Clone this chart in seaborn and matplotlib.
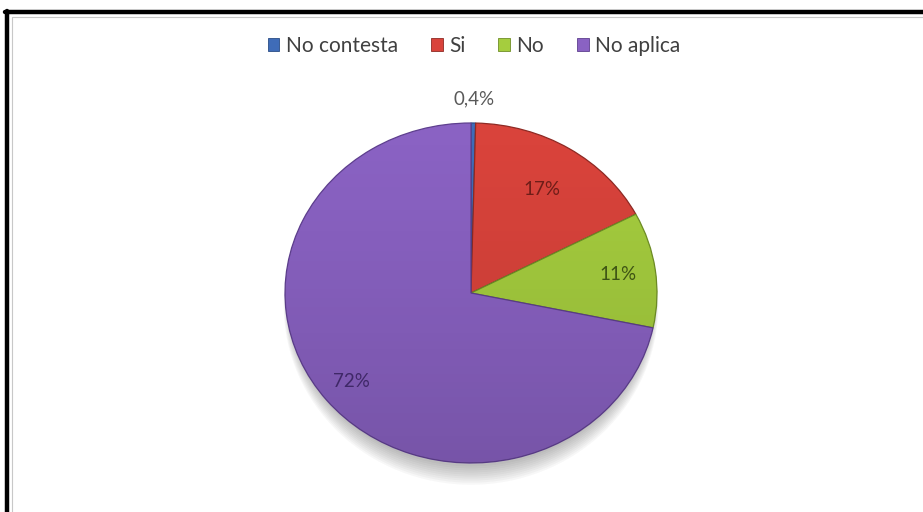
import numpy as np
import matplotlib
matplotlib.use("Agg")
import matplotlib.pyplot as plt
from matplotlib.lines import Line2D
from matplotlib.patches import Ellipse
import seaborn as sns

# Survey answers, in drawing order (clockwise from 12 o'clock)
categories = ["No contesta", "Si", "No", "No aplica"]
values = [0.4, 17, 11, 72]
labels = ["0,4%", "17%", "11%", "72%"]

slice_colors = ["#3F6CB8", "#D9433B", "#A5CD3E", "#8A62C3"]
edge_colors = ["#2A4C85", "#8E2A24", "#6F8E26", "#5E3F8E"]
label_colors = ["#595959", "#6E1D18", "#3E5414", "#3F2867"]
label_radius = [1.14, 0.72, 0.80, 0.83]

sns.set_theme(style="white")
plt.rcParams["font.family"] = ["Lato", "DejaVu Sans"]

W, H = 923, 512
fig = plt.figure(figsize=(W / 100, H / 100), dpi=100)
fig.patch.set_facecolor("white")

# Outer frame: heavy black line on top and left, thin grey line inside
fig.add_artist(Line2D([5 / W, 1], [1 - 12 / H, 1 - 12 / H], color="black", lw=3.2))
fig.add_artist(Line2D([7 / W, 7 / W], [0, 1 - 10.5 / H], color="black", lw=3.2))
fig.add_artist(Line2D([12 / W, 1], [1 - 17 / H, 1 - 17 / H], color="#C8C8C8", lw=0.8))
fig.add_artist(Line2D([12 / W, 12 / W], [0, 1 - 17 / H], color="#C8C8C8", lw=0.8))

# Pie axes (slightly wider than tall, as in the original spreadsheet chart)
cx, cy, rx, ry = 471, 293, 186, 170
ax = fig.add_axes([(cx - rx) / W, (H - cy - ry) / H, 2 * rx / W, 2 * ry / H])
ax.axis("off")

wedges, _ = ax.pie(values, colors=slice_colors, startangle=90, counterclock=False,
                   radius=1.0, wedgeprops=dict(linewidth=0.9))
for w, ec in zip(wedges, edge_colors):
    w.set_edgecolor(ec)
    w.set_zorder(2)

# Soft drop shadow, mostly below the pie
for i in range(10):
    ax.add_patch(Ellipse((0.0, -0.02 - 0.006 * i), 1.96 + 0.006 * i, 2.0 + 0.012 * i,
                         facecolor="#303030", edgecolor="none",
                         alpha=0.035, zorder=0, clip_on=False))

# Subtle darkening towards the bottom of the pie
alpha = np.linspace(0.0, 0.22, 256) ** 1.3
img = np.zeros((256, 1, 4))
img[:, 0, 3] = alpha
shade = ax.imshow(img, extent=[-1, 1, -1, 1], origin="upper",
                  aspect="auto", zorder=3, interpolation="bilinear")
circle = Ellipse((0, 0), 2, 2, transform=ax.transData, facecolor="none", edgecolor="none")
ax.add_patch(circle)
shade.set_clip_path(circle)

for w, lab, col, r in zip(wedges, labels, label_colors, label_radius):
    ang = np.deg2rad((w.theta1 + w.theta2) / 2)
    ax.text(r * np.cos(ang), r * np.sin(ang), lab, ha="center", va="center",
            fontsize=13.5, color=col, zorder=5, clip_on=False)

ax.set_aspect("auto")
ax.set_xlim(-1, 1)
ax.set_ylim(-1, 1)

handles = [plt.Rectangle((0, 0), 1, 1, facecolor=c, edgecolor=e, lw=0.6)
           for c, e in zip(slice_colors, edge_colors)]
fig.legend(handles, categories, loc="center", bbox_to_anchor=(474 / W, 1 - 46 / H),
           ncol=4, frameon=False, fontsize=15, handlelength=0.55, handleheight=0.55,
           handletextpad=0.3, columnspacing=1.6, labelcolor="#404040")

fig.savefig("out.png", dpi=100, facecolor="white")
